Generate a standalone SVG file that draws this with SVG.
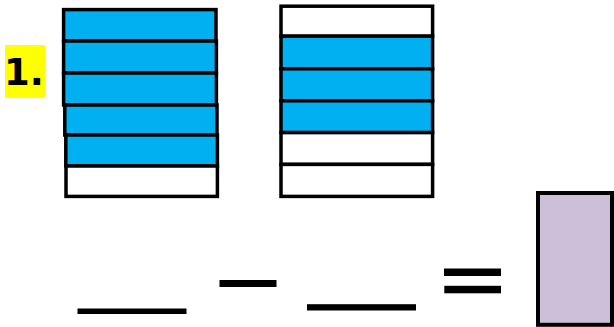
<svg xmlns="http://www.w3.org/2000/svg" width="614" height="327" viewBox="0 0 614 327">
<style>
.cell{stroke:#000;stroke-width:3.5}
.b{fill:#00B0F0}
.w{fill:#fff}
.bar{fill:#000}
.lbl{font-family:'DejaVu Sans', sans-serif;font-weight:bold;fill:#000}
</style>
<rect width="614" height="327" fill="#fff"/>
<g id="label">
<rect x="5" y="45" width="40" height="53" fill="#FFFF00"/>
<text class="lbl" x="4" y="85" font-size="37">1.</text>
</g>
<g id="left-stack">
<rect class="cell b" x="63.6" y="9.6" width="152.4" height="31.4"/>
<rect class="cell b" x="63.6" y="41" width="152.8" height="32"/>
<rect class="cell b" x="63.6" y="73" width="152.8" height="32"/>
<rect class="cell b" x="64.8" y="105" width="152.2" height="30"/>
<rect class="cell b" x="65.8" y="135" width="151.6" height="31"/>
<rect class="cell w" x="66" y="166" width="151.4" height="30.4"/>
</g>
<g id="right-stack">
<rect class="cell w" x="281" y="6.2" width="151.6" height="30"/>
<rect class="cell b" x="281" y="36.2" width="151.6" height="32.6"/>
<rect class="cell b" x="281" y="68.8" width="151.6" height="32"/>
<rect class="cell b" x="281" y="100.8" width="151.6" height="31.8"/>
<rect class="cell w" x="281" y="132.6" width="151.6" height="31.8"/>
<rect class="cell w" x="281" y="164.4" width="151.6" height="32"/>
</g>
<g id="equation">
<rect class="bar" x="77.5" y="308.5" width="109" height="5.5"/>
<rect class="bar" x="219.5" y="280" width="57" height="7"/>
<rect class="bar" x="307" y="304.2" width="109" height="6.3"/>
<rect class="bar" x="444" y="268.5" width="57" height="7.5"/>
<rect class="bar" x="444.3" y="285.8" width="56.7" height="7.5"/>
</g>
<g id="answer-box">
<rect x="538" y="193" width="74" height="131.8" fill="#CCBFD9" stroke="#000" stroke-width="4"/>
</g>
</svg>
